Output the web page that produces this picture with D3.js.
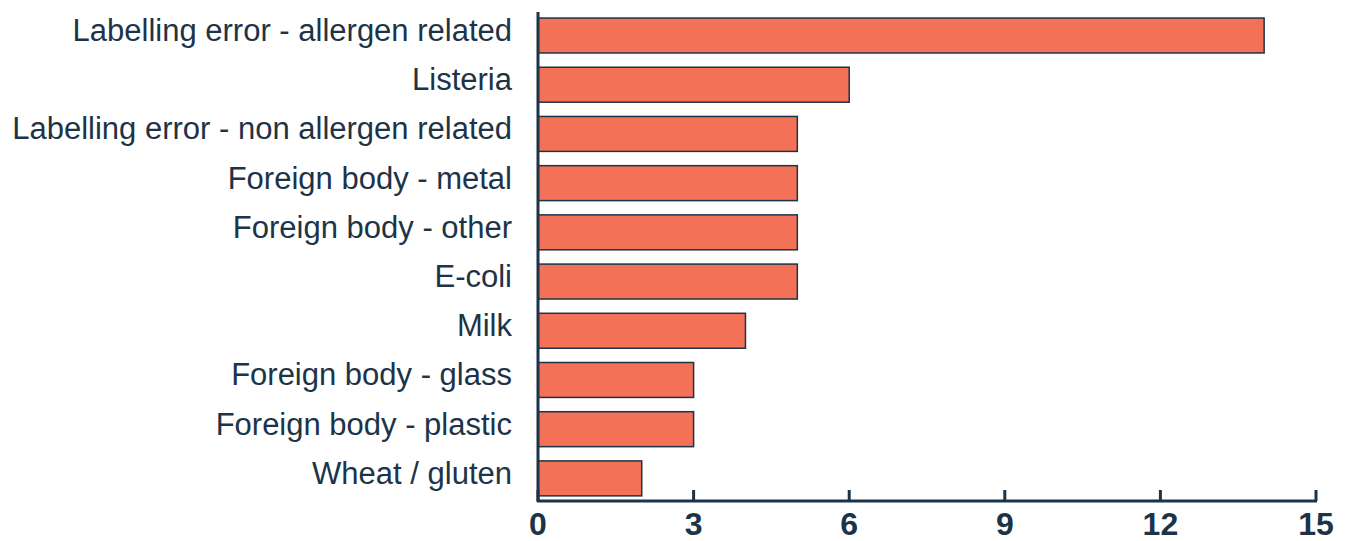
<!doctype html>
<html>
<head>
<style>
    body { margin: 0; background: #fff; }
    svg { display: block; }
    .cat { font-family: "Liberation Sans", Arial, sans-serif; font-size: 31px; fill: #1d3347; text-anchor: end; }
    .tick-label { font-family: "Liberation Sans", Arial, sans-serif; font-size: 32px; font-weight: bold; fill: #1d3347; text-anchor: middle; }
</style>
<script src="https://d3js.org/d3.v7.min.js"></script>
</head>
<body>
<script>
    const categories = [
        'Labelling error - allergen related',
        'Listeria',
        'Labelling error - non allergen related',
        'Foreign body - metal',
        'Foreign body - other',
        'E-coli',
        'Milk',
        'Foreign body - glass',
        'Foreign body - plastic',
        'Wheat / gluten'
    ]
    const counts = [14, 6, 5, 5, 5, 5, 4, 3, 3, 2]
    const tickValues = [0, 3, 6, 9, 12, 15]

    const width = 1354, height = 541
    const ink = '#1d3347'

    const svg = d3.select('body').append('svg')
        .attr('width', width)
        .attr('height', height)

    const x = d3.scaleLinear().domain([0, 15]).range([538, 1316])
    const y = d3.scaleBand().domain(categories).range([10.9, 503]).paddingInner(0.29).paddingOuter(0.145)

    // bars
    svg.append('g').selectAll('rect').data(categories).enter()
        .append('rect')
        .attr('x', x(0))
        .attr('y', d => y(d))
        .attr('width', (d, i) => x(counts[i]) - x(0))
        .attr('height', y.bandwidth())
        .attr('fill', '#f37257')
        .attr('stroke', ink)
        .attr('stroke-width', 1.5)

    // category labels (sit a little above bar centre, like the original)
    svg.append('g').selectAll('text').data(categories).enter()
        .append('text')
        .attr('class', 'cat')
        .attr('x', 512)
        .attr('y', d => y(d) + y.bandwidth() / 2)
        .attr('dy', 5.5)
        .text(d => d)

    // axes lines
    const axisY = 501
    svg.append('line')
        .attr('x1', x(0)).attr('x2', x(0))
        .attr('y1', 12).attr('y2', axisY + 1)
        .attr('stroke', ink).attr('stroke-width', 3)
    svg.append('line')
        .attr('x1', x(0) - 1).attr('x2', x(15) + 1)
        .attr('y1', axisY).attr('y2', axisY)
        .attr('stroke', ink).attr('stroke-width', 3)

    // ticks point up into the plot
    const ticks = svg.append('g').selectAll('g').data(tickValues).enter()
        .append('g')
        .attr('transform', d => `translate(${x(d)},${axisY})`)
    ticks.append('line')
        .attr('y1', 0).attr('y2', -11)
        .attr('stroke', ink).attr('stroke-width', 3)
    ticks.append('text')
        .attr('class', 'tick-label')
        .attr('y', 34)
        .text(d => d)
</script>
</body>
</html>
